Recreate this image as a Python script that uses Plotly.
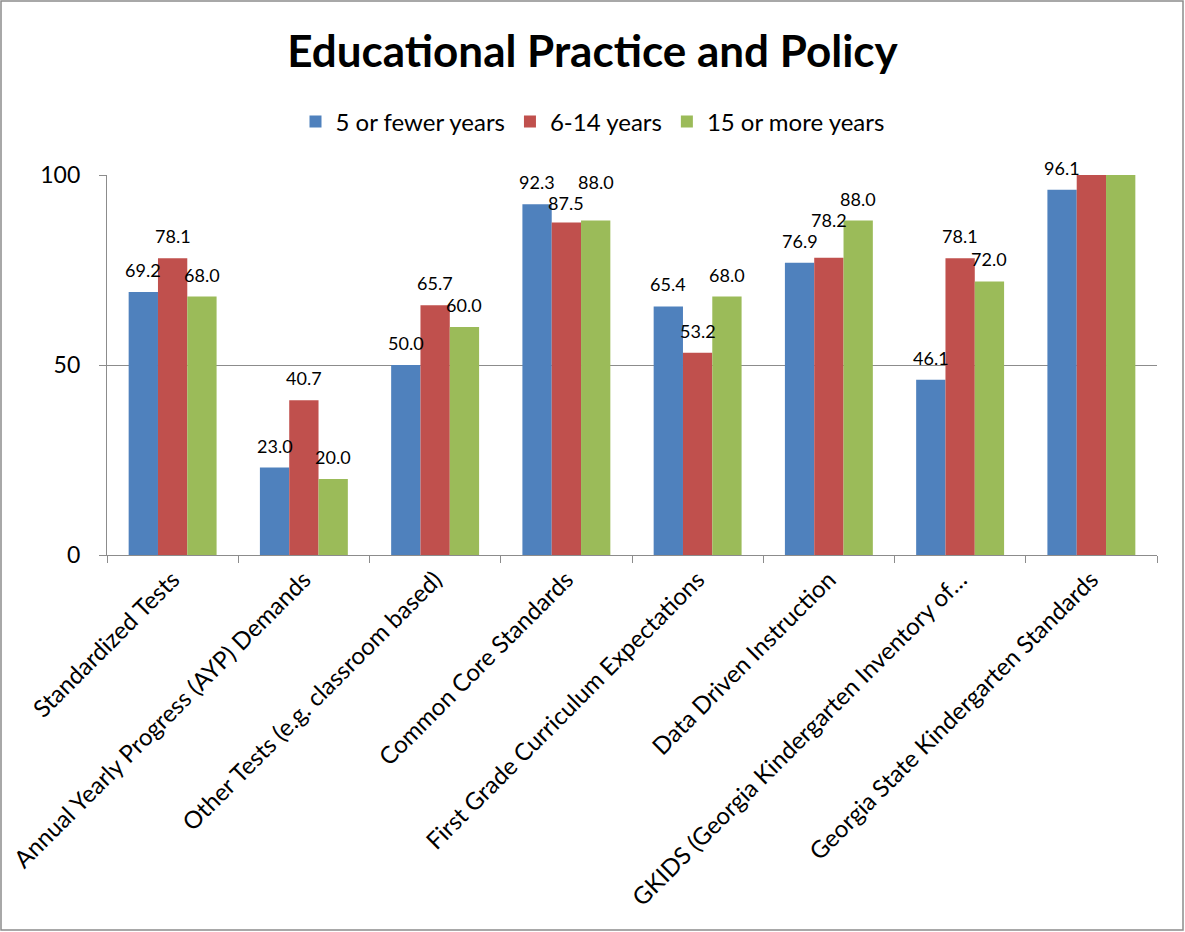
import plotly.graph_objects as go

categories = [
    "Standardized Tests",
    "Annual Yearly Progress (AYP) Demands",
    "Other Tests (e.g. classroom based)",
    "Common Core Standards",
    "First Grade Curriculum Expectations",
    "Data Driven Instruction",
    "GKIDS (Georgia Kindergarten Inventory of…",
    "Georgia State Kindergarten Standards",
]
series_names = ["5 or fewer years", "6-14 years", "15 or more years"]
few_years = [69.2, 23.0, 50.0, 92.3, 65.4, 76.9, 46.1, 96.1]
mid_years = [78.1, 40.7, 65.7, 87.5, 53.2, 78.2, 78.1, 100.0]
many_years = [68.0, 20.0, 60.0, 88.0, 68.0, 88.0, 72.0, 100.0]
colors = ["#4F81BD", "#C0504D", "#9BBB59"]

W, H = 1185, 932
ML, MR, MT, MB = 107, 28, 175, 377
PW, PH = W - ML - MR, H - MT - MB
FONT = "Lato"
BARGAP = 0.33
YMAX = 100

series = [few_years, mid_years, many_years]

fig = go.Figure()
for name, vals, col in zip(series_names, series, colors):
    fig.add_trace(go.Bar(
        x=categories, y=vals, name=name, marker_color=col,
        marker_line_width=0, hoverinfo="x+y+name",
    ))

# Data labels, placed like Excel's: centred ~22px above each bar top,
# staggered vertically when neighbouring labels in a group would collide.
px_per_unit = PH / YMAX
bar_px = PW / len(categories) * (1 - BARGAP) / len(series)
GAP, MIN_SEP = 22, 21
for ci, cat in enumerate(categories):
    centers = []
    for si, vals in enumerate(series):
        v = vals[ci]
        c = v * px_per_unit + GAP
        if si > 0:
            pc = centers[-1]
            if abs(c - pc) < MIN_SEP:
                if v >= series[si - 1][ci]:
                    c = pc + MIN_SEP
                else:
                    c = pc - MIN_SEP
        centers.append(c)
    for si, vals in enumerate(series):
        v = vals[ci]
        if v >= YMAX:
            continue
        fig.add_annotation(
            x=cat, y=v, xref="x", yref="y",
            text=f"{v:.1f}", showarrow=False,
            xshift=(si - 1) * bar_px, yshift=centers[si] - v * px_per_unit,
            yanchor="middle", xanchor="center",
            font=dict(size=18, family=FONT, color="black"),
        )

fig.update_layout(
    width=W, height=H,
    margin=dict(l=ML, r=MR, t=MT, b=MB),
    paper_bgcolor="white", plot_bgcolor="white",
    barmode="group", bargap=BARGAP, bargroupgap=0,
    font=dict(family=FONT, color="black"),
    title=dict(text="<b>Educational Practice and Policy</b>", x=0.5, xref="container",
               y=1 - 52 / H, yref="container", yanchor="middle", xanchor="center",
               font=dict(size=44, family=FONT, color="black")),
    legend=dict(orientation="h", x=0.5, xref="container", xanchor="center",
                y=1 - 122 / H, yref="container", yanchor="middle",
                font=dict(size=24, family=FONT), itemwidth=30, traceorder="normal"),
)
fig.update_yaxes(range=[0, YMAX], tickvals=[0, 50, 100], showgrid=True, gridcolor="#8c8c8c",
                 gridwidth=1.3, showline=True, linecolor="#8c8c8c", linewidth=1.3,
                 ticks="outside", ticklen=7, tickcolor="#8c8c8c", automargin=False,
                 ticklabelstandoff=14,
                 tickfont=dict(size=23, family=FONT), zeroline=False)
fig.update_xaxes(showline=True, linecolor="#8c8c8c", linewidth=1.3, ticks="outside",
                 tickson="boundaries", ticklen=7, tickcolor="#8c8c8c", tickangle=-45,
                 automargin=False, tickfont=dict(size=24, family=FONT))

# outer chart border
fig.add_shape(type="rect", xref="paper", yref="paper",
              x0=(1 - ML) / PW, x1=(1183 - ML) / PW,
              y0=(H - MB - 930) / PH, y1=(H - MB - 1) / PH,
              line=dict(color="#8c8c8c", width=1.5), fillcolor="rgba(0,0,0,0)", layer="below")

fig.write_html("out.html", config={"displayModeBar": False},
               post_script="document.body.style.margin='0';document.body.style.overflow='hidden';")
